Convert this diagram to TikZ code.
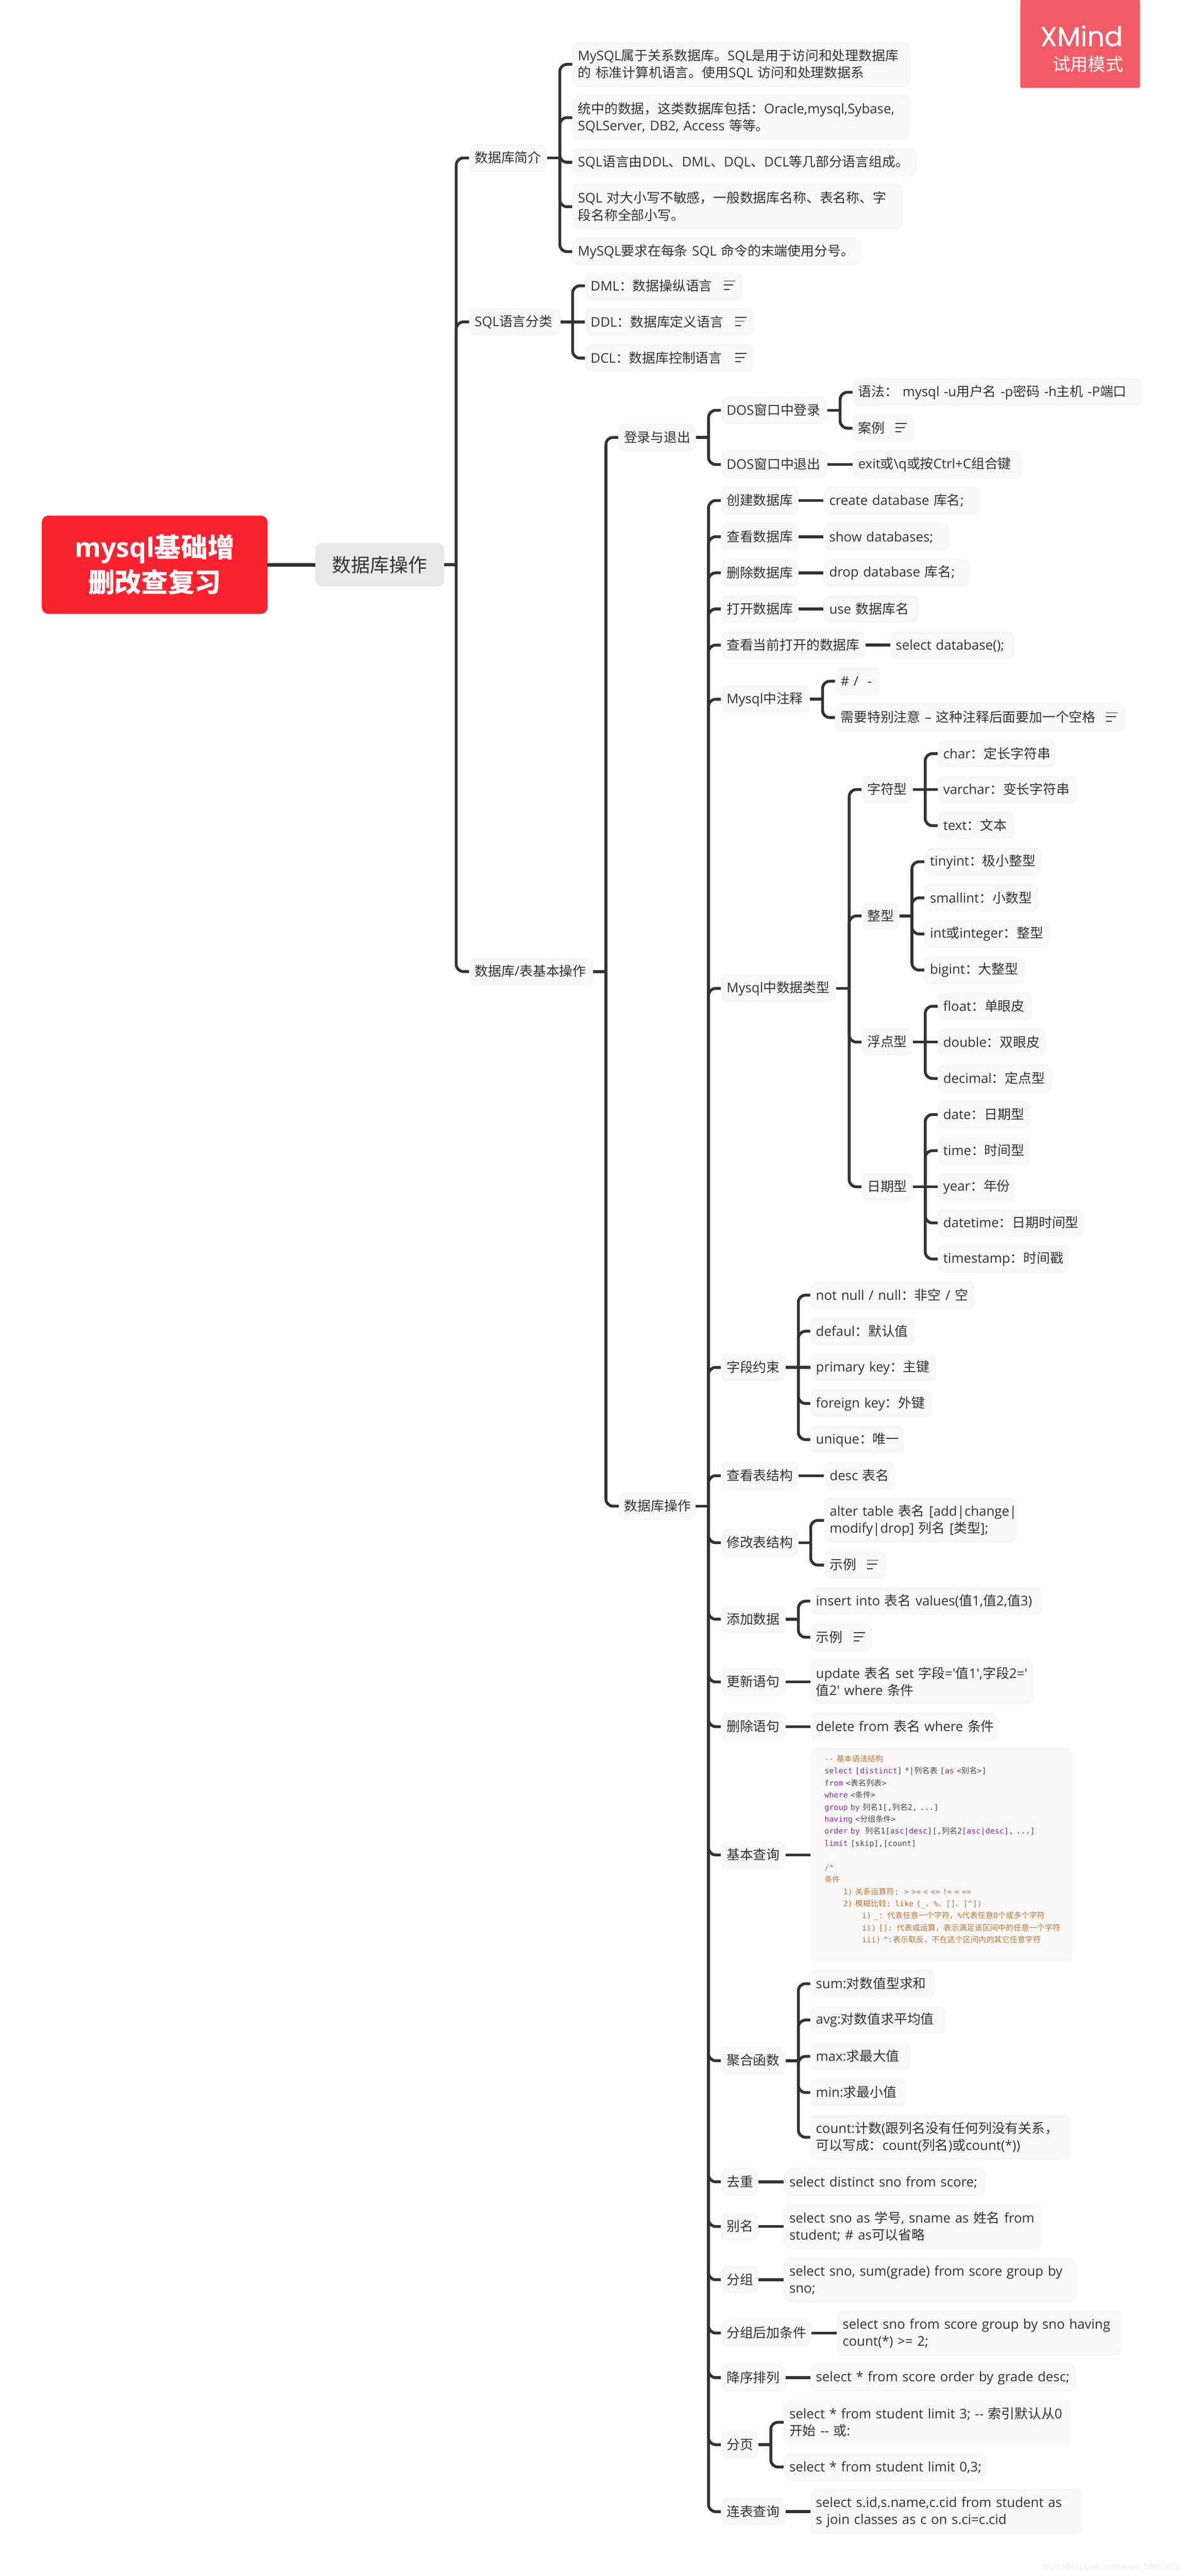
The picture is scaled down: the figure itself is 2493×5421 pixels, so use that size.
\documentclass[tikz,border=0pt]{standalone}
\usepackage{fontspec}
\setmainfont{Open Sans}
\newfontfamily\mainlat[Scale=1.0]{Open Sans}
\newfontfamily\cjkf{Noto Sans CJK SC}
\newfontfamily\codelat{DejaVu Sans Mono}
\newfontfamily\wmfont{Liberation Sans}
\newfontfamily\badgelat[FakeBold=0.4]{Poppins}
\let\latf\mainlat
\newXeTeXintercharclass\cjkcls
\newcount\cjkc
\def\setcjk#1#2{\cjkc=#1\relax\loop\XeTeXcharclass\cjkc=\cjkcls\relax\ifnum\cjkc<#2\advance\cjkc by 1\relax\repeat}
\setcjk{"4E00}{"9FFF}
\setcjk{"3000}{"303F}
\setcjk{"FF00}{"FFEF}
\XeTeXinterchartoks 0 \cjkcls={\cjkf}
\XeTeXinterchartoks \cjkcls 0={\latf}
\XeTeXinterchartoks 4095 \cjkcls={\cjkf}
\XeTeXinterchartoks 4095 0={\latf}
\def\mmfont#1#2{\XeTeXinterchartokenstate=1 \fontsize{#1}{#2}\selectfont}
\def\nstrut{\leavevmode\vrule width 0pt height 24pt depth 4pt\relax}
\def\nobreaks{\rightskip=-400pt plus 1fil\relax\hyphenpenalty=10000\relax}
\definecolor{mmtext}{HTML}{333333}
\definecolor{mmbg}{HTML}{F7F7F7}
\definecolor{mmline}{HTML}{333333}
\definecolor{kw}{HTML}{8E2E9E}
\definecolor{cm}{HTML}{BC7632}
\definecolor{dk}{HTML}{4A4A4A}
\definecolor{rootred}{HTML}{FB2230}
\definecolor{mmgrey}{HTML}{E8E8E8}
\definecolor{badge}{HTML}{F25B66}
\tikzset{
  mmbox/.style={draw=none,fill=mmbg,rounded corners=14pt,inner sep=0pt,outer sep=0pt,align=left,text=mmtext,font=\mmfont{28}{36}},
  mmroot/.style={draw=none,fill=rootred,rounded corners=14pt,inner sep=0pt,outer sep=0pt,align=center,text=white,font=\mmfont{56}{73}\bfseries},
  mmmain/.style={draw=none,fill=mmgrey,rounded corners=14pt,inner sep=0pt,outer sep=0pt,align=center,text=mmtext,font=\mmfont{40}{48}},
  mmconn/.style={draw=mmline,line width=6pt},
  mmthick/.style={draw=mmline,line width=8pt},
  mmnote/.style={draw=mmline,line width=2pt},
}
% [style]{name}{x1}{y1}{x2}{y2}{text}
\newcommand\tn[7][mmbox]{%
  \pgfmathsetmacro\tnw{#5-#3}\pgfmathsetmacro\tnh{#6-#4}%
  \pgfmathsetmacro\tnx{(#3+#5)/2}\pgfmathsetmacro\tny{(#4+#6)/2}%
  \pgfmathsetmacro\tnt{\tnw-24}%
  \node[#1,minimum width=\tnw pt,minimum height=\tnh pt,text width=\tnt pt] (#2) at (\tnx,\tny) {\nobreaks\nstrut #7\nstrut};}
\newcommand\mmstub[2]{\coordinate (#1t) at (#2,0); \coordinate (#1j) at (#1t |- #1.east); \draw[mmconn] (#1.east) -- (#1j);}
\newcommand\mmbr[2]{\draw[mmconn,rounded corners=15pt] (#1j) -- (#1j |- #2.west) -- (#2.west);}
\newcommand\mmstr[2]{\draw[mmconn] (#1.east) -- (#1.east -| #2.west);}
\newcommand\noteic[1]{\draw[mmnote] ([shift={(-40,-10)}]#1.east) -- ++(24,0) ([shift={(-40,-1.5)}]#1.east) -- ++(20,0) ([shift={(-40,7.5)}]#1.east) -- ++(12,0);}
\begin{document}
\begin{tikzpicture}[x=1pt,y=-1pt]
\useasboundingbox (0,0) rectangle (2493,5421);
% badge
\node[fill=badge,rounded corners=2pt,inner sep=0pt,minimum width=252pt,minimum height=185pt] (badge) at (2273,92.5) {};
\node[anchor=base east,inner sep=0pt,text=white,font=\fontsize{57}{60}\selectfont] (xmind) at (2363,97) {\badgelat XMind};
\node[anchor=east,inner sep=0pt,text=white,font=\fontsize{37}{40}\selectfont] (trial) at (2364,135) {\cjkf 试用模式};
% root and main
\node[mmroot,minimum width=475pt,minimum height=207pt] (root) at (325.5,1188.5) {mysql基础增\\删改查复习};
\node[mmmain,minimum width=272pt,minimum height=91pt] (main) at (799,1188.5) {数据库操作};
% level 2
\tn{jj}{987}{303}{1151}{362}{数据库简介}
\tn{fl}{987}{648}{1180}{707}{SQL语言分类}
\tn{jb}{987}{2015}{1248}{2074}{数据库/表基本操作}
% intro
\tn{j1}{1204}{88}{1916}{183}{MySQL属于关系数据库。SQL是用于访问和处理数据库\\的 标准计算机语言。使用SQL 访问和处理数据系}
\tn{j2}{1204}{200}{1915}{295}{统中的数据，这类数据库包括：Oracle,mysql,Sybase,\\SQLServer, DB2, Access 等等。}
\tn{j3}{1204}{312}{1929}{371}{SQL语言由DDL、DML、DQL、DCL等几部分语言组成。}
\tn{j4}{1204}{387}{1900}{483}{SQL 对大小写不敏感，一般数据库名称、表名称、字\\段名称全部小写。}
\tn{j5}{1204}{500}{1811}{559}{MySQL要求在每条 SQL 命令的末端使用分号。}
% classes
\tn{dml}{1231}{572}{1563}{631}{DML：数据操纵语言}
\tn{ddl}{1231}{648}{1587}{707}{DDL：数据库定义语言}
\tn{dcl}{1231}{724}{1587}{783}{DCL：数据库控制语言}
% login
\tn{dl}{1301}{891}{1465}{950}{登录与退出}
\tn{in}{1517}{834}{1741}{893}{DOS窗口中登录}
\tn{out}{1517}{948}{1741}{1007}{DOS窗口中退出}
\tn{yf}{1794}{796}{2404}{855}{语法： mysql -u用户名 -p密码 -h主机 -P端口}
\tn{al}{1794}{871}{1924}{931}{案例}
\tn{ex}{1794}{948}{2150}{1007}{exit或\textbackslash q或按Ctrl+C组合键}
% database ops
\tn{ops}{1302}{3140}{1464}{3199}{数据库操作}
\tn{cj}{1517}{1024}{1681}{1083}{创建数据库}
\tn{cjv}{1733}{1024}{2064}{1083}{create database 库名;}
\tn{ck}{1517}{1100}{1681}{1159}{查看数据库}
\tn{ckv}{1733}{1100}{1997}{1159}{show databases;}
\tn{sc}{1517}{1176}{1681}{1235}{删除数据库}
\tn{scv}{1733}{1176}{2042}{1235}{drop database 库名;}
\tn{dk}{1517}{1252}{1681}{1311}{打开数据库}
\tn{dkv}{1733}{1252}{1933}{1311}{use 数据库名}
\tn{dq}{1517}{1328}{1821}{1387}{查看当前打开的数据库}
\tn{dqv}{1873}{1328}{2136}{1387}{select database();}
\tn{zs}{1517}{1442}{1704}{1501}{Mysql中注释}
\tn{zs1}{1757}{1404}{1852}{1463}{\# /\ \ -}
\tn{zs2}{1757}{1481}{2368}{1539}{需要特别注意 – 这种注释后面要加一个空格}
% types
\tn{ty}{1517}{2051}{1760}{2109}{Mysql中数据类型}
\tn{tc}{1813}{1632}{1921}{1691}{字符型}
\tn{tc1}{1973}{1557}{2223}{1615}{char：定长字符串}
\tn{tc2}{1973}{1632}{2266}{1691}{varchar：变长字符串}
\tn{tc3}{1973}{1708}{2134}{1767}{text：文本}
\tn{ti}{1813}{1898}{1893}{1957}{整型}
\tn{ti1}{1945}{1784}{2192}{1843}{tinyint：极小整型}
\tn{ti2}{1945}{1860}{2186}{1919}{smallint：小数型}
\tn{ti3}{1945}{1936}{2208}{1995}{int或integer：整型}
\tn{ti4}{1945}{2012}{2156}{2071}{bigint：大整型}
\tn{tf}{1813}{2164}{1921}{2222}{浮点型}
\tn{tf1}{1973}{2088}{2172}{2147}{float：单眼皮}
\tn{tf2}{1973}{2164}{2201}{2223}{double：双眼皮}
\tn{tf3}{1973}{2240}{2214}{2299}{decimal：定点型}
\tn{td}{1813}{2468}{1921}{2527}{日期型}
\tn{td1}{1973}{2316}{2168}{2375}{date：日期型}
\tn{td2}{1973}{2392}{2168}{2451}{time：时间型}
\tn{td3}{1973}{2468}{2138}{2527}{year：年份}
\tn{td4}{1973}{2544}{2281}{2603}{datetime：日期时间型}
\tn{td5}{1973}{2620}{2250}{2679}{timestamp：时间戳}
% constraints
\tn{yz}{1517}{2848}{1653}{2907}{字段约束}
\tn{yz1}{1705}{2696}{2052}{2755}{not null / null：非空 / 空}
\tn{yz2}{1705}{2772}{1926}{2831}{defaul：默认值}
\tn{yz3}{1705}{2848}{1970}{2907}{primary key：主键}
\tn{yz4}{1705}{2924}{1960}{2983}{foreign key：外键}
\tn{yz5}{1705}{3000}{1903}{3059}{unique：唯一}
\tn{ds}{1517}{3076}{1680}{3135}{查看表结构}
\tn{dsv}{1734}{3076}{1885}{3135}{desc 表名}
\tn{xg}{1517}{3217}{1680}{3276}{修改表结构}
\tn{xg1}{1734}{3152}{2141}{3247}{alter table 表名 [add|change|\\modify|drop] 列名 [类型];}
\tn{xg2}{1734}{3264}{1865}{3323}{示例}
\tn{tj}{1517}{3378}{1653}{3437}{添加数据}
\tn{tj1}{1705}{3340}{2194}{3399}{insert into 表名 values(值1,值2,值3)}
\tn{tj2}{1705}{3416}{1836}{3475}{示例}
\tn{gx}{1517}{3510}{1653}{3569}{更新语句}
\tn{gxv}{1705}{3492}{2174}{3587}{update 表名 set 字段='值1',字段2='\\值2' where 条件}
\tn{de}{1517}{3604}{1653}{3663}{删除语句}
\tn{dev}{1705}{3604}{2100}{3663}{\mbox{delete from 表名 where 条件}}
\tn{jc}{1517}{3874}{1653}{3933}{基本查询}
\node[fill=mmbg,rounded corners=14pt,inner sep=0pt,outer sep=0pt,minimum width=553pt,minimum height=449pt,text width=493pt,align=left,text=dk,font={\let\latf\codelat\mmfont{16.4}{25.4}}] (code) at (1981.5,3903.5) {%
\color{cm}-- 基本语法结构\\
\color{kw}select \color{dk}[\color{kw}distinct\color{dk}] *|列名表 [\color{kw}as \color{dk}<别名>]\\
\color{kw}from \color{dk}<表名列表>\\
\color{kw}where \color{dk}<条件>\\
\color{kw}group by \color{dk}列名1[,列名2, ...]\\
\color{kw}having \color{dk}<分组条件>\\
\color{kw}order by\ \ \color{dk}列名1[\color{kw}asc\color{dk}|\color{kw}desc\color{dk}][,列名2[\color{kw}asc\color{dk}|\color{kw}desc\color{dk}], ...]\\
\color{kw}limit \color{dk}[skip],[count]\\
\mbox{}\\
\color{cm}/*\\
条件\\
\hspace*{39.5pt}1) 关系运算符:\ \ > >= < <= != = ==\\
\hspace*{39.5pt}2) 模糊比较: like (\_、\%、[]、[\^{}])\\
\hspace*{79pt}i) \_: 代表任意一个字符，\%代表任意0个或多个字符\\
\hspace*{79pt}ii) []: 代表或运算，表示满足该区间中的任意一个字符\\
\hspace*{79pt}iii) \^{}:表示取反，不在这个区间内的其它任意字符\\
\mbox{}};
% aggregates
\tn{jh}{1517}{4307}{1653}{4366}{聚合函数}
\tn{jh1}{1705}{4145}{1968}{4204}{sum:对数值型求和}
\tn{jh2}{1705}{4222}{1990}{4280}{avg:对数值求平均值}
\tn{jh3}{1705}{4298}{1916}{4357}{max:求最大值}
\tn{jh4}{1705}{4374}{1906}{4433}{min:求最小值}
\tn{jh5}{1705}{4450}{2251}{4545}{count:计数(跟列名没有任何列没有关系，\\可以写成：count(列名)或count(*))}
\tn{qc}{1517}{4562}{1596}{4621}{去重}
\tn{qcv}{1649}{4562}{2074}{4621}{select distinct sno from score;}
\tn{bm}{1517}{4656}{1596}{4715}{别名}
\tn{bmv}{1649}{4638}{2194}{4733}{select sno as 学号, sname as 姓名 from\\student; \# as可以省略}
\tn{fz}{1517}{4768}{1596}{4827}{分组}
\tn{fzv}{1649}{4750}{2266}{4845}{select sno, sum(grade) from score group by\\sno;}
\tn{hv}{1517}{4880}{1708}{4939}{分组后加条件}
\tn{hvv}{1761}{4862}{2361}{4957}{select sno from score group by sno having\\count(*) >= 2;}
\tn{px}{1517}{4974}{1653}{5033}{降序排列}
\tn{pxv}{1705}{4974}{2264}{5033}{select * from score order by grade desc;}
\tn{fy}{1517}{5115}{1596}{5174}{分页}
\tn{fy1}{1649}{5050}{2254}{5145}{select * from student limit 3; -- 索引默认从0\\开始 -- 或:}
\tn{fy2}{1649}{5162}{2078}{5221}{select * from student limit 0,3;}
\tn{lb}{1517}{5256}{1653}{5315}{连表查询}
\tn{lbv}{1705}{5238}{2278}{5333}{select s.id,s.name,c.cid from student as\\s join classes as c on s.ci=c.cid}
\node[anchor=east,inner sep=0pt,text=black!7,font=\fontsize{17}{20}\selectfont] (wm) at (2483,5403) {\wmfont https://blog.csdn.net/weixin\_50659023};
% connectors
\draw[mmthick] (root.east) -- (root.east -| main.west);
\mmstub{main}{960}
\mmbr{main}{jj}\mmbr{main}{fl}\mmbr{main}{jb}
\mmstub{jj}{1178}
\mmbr{jj}{j1}\mmbr{jj}{j2}\mmbr{jj}{j3}\mmbr{jj}{j4}\mmbr{jj}{j5}
\mmstub{fl}{1205}
\mmbr{fl}{dml}\mmstr{fl}{ddl}\mmbr{fl}{dcl}
\noteic{dml}\noteic{ddl}\noteic{dcl}
\mmstub{jb}{1275}
\mmbr{jb}{dl}\mmbr{jb}{ops}
\mmstub{dl}{1491}
\mmbr{dl}{in}\mmbr{dl}{out}
\mmstub{in}{1768}
\mmbr{in}{yf}\mmbr{in}{al}
\noteic{al}
\mmstr{out}{ex}
\mmstub{ops}{1491}
\mmbr{ops}{cj}\mmbr{ops}{ck}\mmbr{ops}{sc}\mmbr{ops}{dk}\mmbr{ops}{dq}\mmbr{ops}{zs}\mmbr{ops}{ty}\mmbr{ops}{yz}\mmbr{ops}{ds}\mmbr{ops}{xg}\mmbr{ops}{tj}\mmbr{ops}{gx}\mmbr{ops}{de}\mmbr{ops}{jc}\mmbr{ops}{jh}\mmbr{ops}{qc}\mmbr{ops}{bm}\mmbr{ops}{fz}\mmbr{ops}{hv}\mmbr{ops}{px}\mmbr{ops}{fy}\mmbr{ops}{lb}
\mmstr{cj}{cjv}\mmstr{ck}{ckv}\mmstr{sc}{scv}\mmstr{dk}{dkv}\mmstr{dq}{dqv}
\mmstub{zs}{1731}
\mmbr{zs}{zs1}\mmbr{zs}{zs2}
\noteic{zs2}
\mmstub{ty}{1787}
\mmbr{ty}{tc}\mmbr{ty}{ti}\mmbr{ty}{tf}\mmbr{ty}{td}
\mmstub{tc}{1947}
\mmbr{tc}{tc1}\mmstr{tc}{tc2}\mmbr{tc}{tc3}
\mmstub{ti}{1919}
\mmbr{ti}{ti1}\mmbr{ti}{ti2}\mmbr{ti}{ti3}\mmbr{ti}{ti4}
\mmstub{tf}{1947}
\mmbr{tf}{tf1}\mmstr{tf}{tf2}\mmbr{tf}{tf3}
\mmstub{td}{1947}
\mmbr{td}{td1}\mmbr{td}{td2}\mmstr{td}{td3}\mmbr{td}{td4}\mmbr{td}{td5}
\mmstub{yz}{1680}
\mmbr{yz}{yz1}\mmbr{yz}{yz2}\mmstr{yz}{yz3}\mmbr{yz}{yz4}\mmbr{yz}{yz5}
\mmstr{ds}{dsv}
\mmstub{xg}{1706}
\mmbr{xg}{xg1}\mmbr{xg}{xg2}
\noteic{xg2}
\mmstub{tj}{1680}
\mmbr{tj}{tj1}\mmbr{tj}{tj2}
\noteic{tj2}
\mmstr{gx}{gxv}\mmstr{de}{dev}\mmstr{jc}{code}
\mmstub{jh}{1680}
\mmbr{jh}{jh1}\mmbr{jh}{jh2}\mmbr{jh}{jh3}\mmbr{jh}{jh4}\mmbr{jh}{jh5}
\mmstr{qc}{qcv}\mmstr{bm}{bmv}\mmstr{fz}{fzv}\mmstr{hv}{hvv}\mmstr{px}{pxv}
\mmstub{fy}{1622}
\mmbr{fy}{fy1}\mmbr{fy}{fy2}
\mmstr{lb}{lbv}
\end{tikzpicture}
\end{document}
